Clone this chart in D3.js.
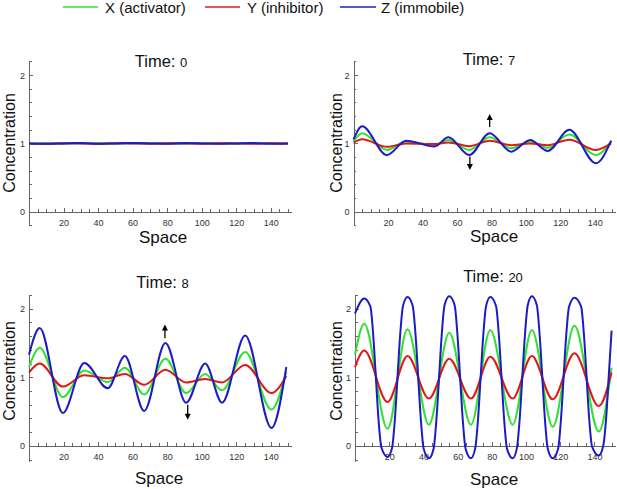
<!DOCTYPE html>
<html>
<head>
<meta charset="utf-8">
<script src="https://cdn.jsdelivr.net/npm/d3@7"></script>
<style>
  body { margin: 0; background: #fff; }
  svg { display: block; font-family: Arial, "Liberation Sans", sans-serif; }
  .axis path, .axis line { stroke: #666; stroke-width: 1; shape-rendering: crispEdges; }
  .axis text { font-size: 9px; fill: #333; }
  .curve { fill: none; stroke-width: 2; }
</style>
</head>
<body>
<svg id="chart" width="617" height="489"></svg>
<script>
// Champs X / Y / Z dans l'espace, à quatre instants

const seriesNames  = ["X (activator)", "Y (inhibitor)", "Z (immobile)"];
const seriesColors = ["#2fe22f", "#e01818", "#1c1cc4"];

const xTicks = [20, 40, 60, 80, 100, 120, 140];
const yTicks = [0, 1, 2];

// Time 0 : état homogène
const t0Space = [0, 10, 20, 30, 40, 50, 60, 70, 80, 90, 100, 110, 120, 130, 140, 150];
const t0X = [1.0, 1.004, 0.996, 1.0, 1.004, 0.996, 1.0, 1.004, 1.0, 0.996, 1.004, 1.0, 0.996, 1.0, 1.004, 1.0];
const t0Y = [1.0, 0.997, 1.003, 1.0, 0.997, 1.003, 1.0, 0.997, 1.003, 1.0, 0.997, 1.003, 1.0, 0.997, 1.003, 1.0];
const t0Z = [1.0, 0.995, 1.0, 1.005, 0.995, 1.0, 1.005, 1.0, 0.995, 1.005, 1.0, 0.995, 1.0, 1.005, 0.995, 1.0];

// Time 7 (extrema relevés)
const t7Space = [0, 5, 19.4, 30.5, 47, 55, 67.2, 79, 91.5, 102.5, 112.7, 125.2, 140.6, 149.5];
const t7X = [1.03, 1.15, 0.905, 1.03, 0.975, 1.05, 0.905, 1.09, 0.93, 1.03, 0.935, 1.13, 0.83, 1.03];
const t7Y = [1.01, 1.06, 0.95, 1.0, 0.99, 1.015, 0.96, 1.04, 0.975, 1.0, 0.975, 1.055, 0.905, 1.0];
const t7Z = [1.06, 1.25, 0.83, 1.04, 0.955, 1.09, 0.83, 1.15, 0.88, 1.05, 0.89, 1.2, 0.71, 1.04];

// Time 8
const t8Space = [0, 6.2, 19.6, 32, 45.6, 55.5, 66.7, 79, 91, 102, 111.8, 125.2, 140.4, 149];
const t8X = [1.15, 1.43, 0.71, 1.1, 0.93, 1.14, 0.75, 1.27, 0.77, 1.05, 0.81, 1.37, 0.53, 1.08];
const t8Y = [1.07, 1.2, 0.865, 1.03, 0.985, 1.05, 0.89, 1.11, 0.925, 0.975, 0.925, 1.18, 0.77, 1.02];
const t8Z = [1.33, 1.72, 0.48, 1.21, 0.84, 1.31, 0.51, 1.5, 0.63, 1.2, 0.63, 1.61, 0.26, 1.15];

// Time 20
const t20Space = [0, 5.4, 19, 30.7, 43.2, 55.1, 67.8, 79.1, 92.2, 103.4, 115.6, 128.3, 142.5, 150];
const t20X = [1.33, 1.78, 0.25, 1.7, 0.31, 1.65, 0.31, 1.69, 0.31, 1.69, 0.28, 1.75, 0.21, 1.14];
const t20Y = [1.15, 1.39, 0.64, 1.31, 0.69, 1.27, 0.69, 1.3, 0.69, 1.31, 0.68, 1.35, 0.58, 1.07];
// Z à t=20 : créneaux arrondis, relevés plus finement (flancs raides)
const t20ZSpace = [
  0, 5.4, 9.0, 10.7, 12.2, 13.7, 15.4, 19,
  21.65, 23.35, 24.85, 26.35, 28.05, 30.7,
  33.75, 35.45, 36.95, 38.45, 40.15, 43.2,
  45.95, 47.65, 49.15, 50.65, 52.35, 55.1,
  58.25, 59.95, 61.45, 62.95, 64.65, 67.8,
  70.25, 71.95, 73.45, 74.95, 76.65, 79.1,
  82.45, 84.15, 85.65, 87.15, 88.85, 92.2,
  94.6, 96.3, 97.8, 99.3, 101.0, 103.4,
  106.3, 108.0, 109.5, 111.0, 112.7, 115.6,
  118.75, 120.45, 121.95, 123.45, 125.15, 128.3,
  132.2, 133.9, 135.4, 136.9, 138.6, 142.5,
  145.1, 146.8, 148.3, 150
];
const t20Z = [
  1.93, 2.15, 2.03, 1.6, 1.0, 0.4, -0.02, -0.16,
  -0.03, 0.4, 1.0, 1.6, 2.04, 2.17,
  2.04, 1.6, 1.0, 0.4, -0.04, -0.18,
  -0.04, 0.4, 1.0, 1.6, 2.05, 2.18,
  2.05, 1.6, 1.0, 0.4, -0.04, -0.18,
  -0.04, 0.4, 1.0, 1.6, 2.04, 2.17,
  2.04, 1.6, 1.0, 0.4, -0.04, -0.18,
  -0.04, 0.4, 1.0, 1.6, 2.05, 2.18,
  2.05, 1.6, 1.0, 0.4, -0.04, -0.18,
  -0.04, 0.4, 1.0, 1.6, 2.03, 2.16,
  2.03, 1.6, 1.0, 0.4, -0.01, -0.14,
  0.0, 0.4, 1.0, 1.68
];

// Flèches d'annotation : [space, départ, pointe]
const t7Arrows = [[79, 1.24, 1.43], [67.5, 0.81, 0.61]];
const t8Arrows = [[78.7, 1.57, 1.77], [91.9, 0.6, 0.38]];

const panels = [
  { time: "0",  series: [[t0Space, t0X], [t0Space, t0Y], [t0Space, t0Z]], arrows: [] },
  { time: "7",  series: [[t7Space, t7X], [t7Space, t7Y], [t7Space, t7Z]], arrows: t7Arrows },
  { time: "8",  series: [[t8Space, t8X], [t8Space, t8Y], [t8Space, t8Z]], arrows: t8Arrows },
  { time: "20", series: [[t20Space, t20X], [t20Space, t20Y], [t20ZSpace, t20Z]], arrows: [] },
];

// Mise en page des quatre cadrans (pixels)
const layout = [
  { xr: [29, 291.5],    yr: [225.4, 60.1], yd: [-0.2, 2.22], title: [161, 66.5], ylab: [14.5, 143], xlab: [163, 243] },
  { xr: [353.5, 615.5], yr: [225.4, 60.1], yd: [-0.2, 2.22], title: [489, 65],   ylab: [341.5, 143], xlab: [494, 242] },
  { xr: [29, 291.5],    yr: [461, 295],    yd: [-0.22, 2.2], title: [162.5, 288], ylab: [14.5, 371], xlab: [159, 483.5] },
  { xr: [355, 615],     yr: [461, 295],    yd: [-0.22, 2.2], title: [493, 282],  ylab: [342, 371], xlab: [494, 484.5] },
];

const svg = d3.select("#chart");

// Légende
const legendPos = [[63, 98, 105], [205, 240, 247], [340, 376, 381]];
const legend = svg.append("g").attr("class", "legend");
seriesNames.forEach((name, i) => {
  const [x1, x2, tx] = legendPos[i];
  legend.append("line")
    .attr("x1", x1).attr("x2", x2).attr("y1", 7).attr("y2", 7)
    .attr("stroke", seriesColors[i]).attr("stroke-width", 1.5);
  legend.append("text")
    .attr("x", tx).attr("y", 12.6)
    .attr("font-size", 15).attr("fill", "#111")
    .text(name);
});

panels.forEach((p, i) => drawPanel(p, layout[i]));

function drawPanel(panel, lay) {
  const g = svg.append("g").attr("class", "panel");

  const x = d3.scaleLinear().domain([0, 152]).range(lay.xr);
  const y = d3.scaleLinear().domain(lay.yd).range(lay.yr);

  const xMinor = d3.range(5, 151, 5).filter(v => v % 20 !== 0);
  const yMinor = d3.range(-1, 12).map(k => +(k * 0.2).toFixed(1)).filter(v => v % 1 !== 0);

  // Axe X (à y = 0)
  g.append("g")
    .attr("class", "axis")
    .attr("transform", `translate(0,${y(0)})`)
    .call(d3.axisBottom(x).tickValues(xTicks).tickSizeInner(-4).tickSizeOuter(0).tickPadding(7.5));
  g.append("g")
    .attr("class", "axis")
    .attr("transform", `translate(0,${y(0)})`)
    .call(d3.axisBottom(x).tickValues(xMinor).tickSizeInner(-2.5).tickSizeOuter(0).tickFormat(""))
    .select(".domain").remove();

  // Axe Y (à x = 0)
  g.append("g")
    .attr("class", "axis")
    .attr("transform", `translate(${x(0)},0)`)
    .call(d3.axisLeft(y).tickValues(yTicks).tickSizeInner(-4).tickSizeOuter(0).tickPadding(4).tickFormat(d3.format("d")));
  g.append("g")
    .attr("class", "axis")
    .attr("transform", `translate(${x(0)},0)`)
    .call(d3.axisLeft(y).tickValues(yMinor).tickSizeInner(-2.5).tickSizeOuter(0).tickFormat(""))
    .select(".domain").remove();

  // Courbes X, Y, Z (Z dessinée en dernier, au-dessus)
  const line = d3.line()
    .x(d => x(d[0]))
    .y(d => y(d[1]))
    .curve(d3.curveMonotoneX);
  panel.series.forEach(([space, values], k) => {
    g.append("path")
      .attr("class", "curve")
      .attr("stroke", seriesColors[k])
      .attr("d", line(d3.zip(space, values)));
  });

  // Flèches
  panel.arrows.forEach(([sx, from, to]) => {
    const px = x(sx), y0 = y(from), y1 = y(to);
    const dir = Math.sign(y1 - y0);
    g.append("line")
      .attr("x1", px).attr("x2", px)
      .attr("y1", y0).attr("y2", y1 - dir * 5)
      .attr("stroke", "#000").attr("stroke-width", 1.3);
    g.append("path")
      .attr("d", `M${px},${y1} L${px - 3},${y1 - dir * 6} L${px + 3},${y1 - dir * 6} Z`)
      .attr("fill", "#000");
  });

  // Titre
  const title = g.append("text")
    .attr("x", lay.title[0]).attr("y", lay.title[1])
    .attr("text-anchor", "middle").attr("fill", "#111");
  title.append("tspan").attr("font-size", 16.5).text("Time: ");
  title.append("tspan").attr("font-size", 13).text(panel.time);

  // Libellés d'axes
  g.append("text")
    .attr("transform", `translate(${lay.ylab[0]},${lay.ylab[1]}) rotate(-90)`)
    .attr("text-anchor", "middle").attr("font-size", 16).attr("fill", "#111")
    .text("Concentration");
  g.append("text")
    .attr("x", lay.xlab[0]).attr("y", lay.xlab[1])
    .attr("text-anchor", "middle").attr("font-size", 17).attr("fill", "#111")
    .text("Space");
}
</script>
</body>
</html>
